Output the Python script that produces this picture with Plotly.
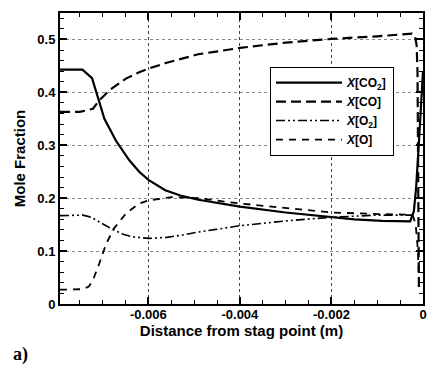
import plotly.graph_objects as go

# ---- data ----
co2_x = [-0.00793, -0.00744, -0.00723, -0.00714, -0.00696, -0.00671, -0.00642, -0.00620, -0.00599,
         -0.00563, -0.00530, -0.00491, -0.00450, -0.00400, -0.00300, -0.00200, -0.00150, -0.00089,
         -0.00028, -0.00020, -0.00015, -0.00010, -0.00006, 0.0]
co2_y = [0.443, 0.443, 0.427, 0.400, 0.350, 0.309, 0.272, 0.250, 0.234,
         0.215, 0.205, 0.197, 0.191, 0.184, 0.173, 0.164, 0.160, 0.157,
         0.156, 0.175, 0.220, 0.290, 0.350, 0.440]

co_x = [-0.00793, -0.00750, -0.00721, -0.00707, -0.00685, -0.00649, -0.00620, -0.00599, -0.00560,
        -0.00527, -0.00491, -0.00452, -0.00400, -0.00300, -0.00200, -0.00100, -0.00024, -0.00018,
        -0.00014, -0.00012, -0.00010, -0.00009]
co_y = [0.363, 0.363, 0.369, 0.385, 0.404, 0.426, 0.438, 0.445, 0.456,
        0.464, 0.472, 0.477, 0.484, 0.494, 0.501, 0.506, 0.511, 0.508,
        0.490, 0.440, 0.200, 0.032]

o2_x = [-0.00793, -0.00743, -0.00725, -0.00707, -0.00678, -0.00655, -0.00635, -0.00599, -0.00560,
        -0.00527, -0.00491, -0.00452, -0.00400, -0.00300, -0.00200, -0.00100, -0.00031, -0.00022]
o2_y = [0.167, 0.168, 0.164, 0.155, 0.141, 0.132, 0.127, 0.124, 0.126,
        0.130, 0.136, 0.141, 0.148, 0.157, 0.164, 0.168, 0.169, 0.168]

o_x = [-0.00793, -0.00743, -0.00730, -0.00721, -0.00707, -0.00692, -0.00675, -0.00649, -0.00620,
       -0.00599, -0.00548, -0.00491, -0.00400, -0.00300, -0.00200, -0.00100, -0.00031, -0.00022,
       -0.00016, -0.00011, -0.00009]
o_y = [0.027, 0.028, 0.033, 0.045, 0.077, 0.114, 0.143, 0.171, 0.190,
       0.196, 0.202, 0.200, 0.190, 0.181, 0.173, 0.170, 0.169, 0.167,
       0.150, 0.100, 0.050]

names = ["<i>X</i>[CO<sub>2</sub>]", "<i>X</i>[CO]", "<i>X</i>[O<sub>2</sub>]", "<i>X</i>[O]"]
x_ticks = [-0.006, -0.004, -0.002, 0]
x_tick_labels = ["-0.006", "-0.004", "-0.002", "0"]
y_ticks = [0, 0.1, 0.2, 0.3, 0.4, 0.5]
y_tick_labels = ["0", "0.1", "0.2", "0.3", "0.4", "0.5"]

FONT = "Liberation Sans"

fig = go.Figure()
fig.add_trace(go.Scatter(x=co2_x, y=co2_y, mode="lines", name=names[0],
                         line=dict(color="black", width=2.2, dash="solid")))
fig.add_trace(go.Scatter(x=co_x, y=co_y, mode="lines", name=names[1],
                         line=dict(color="black", width=2.2, dash="10px,5px")))
fig.add_trace(go.Scatter(x=o2_x, y=o2_y, mode="lines", name=names[2],
                         line=dict(color="black", width=1.6, dash="9px,3px,2px,3px,2px,3px")))
fig.add_trace(go.Scatter(x=o_x, y=o_y, mode="lines", name=names[3],
                         line=dict(color="black", width=1.8, dash="7px,6px")))

axis_common = dict(
    showline=True, linecolor="black", linewidth=2, mirror="allticks",
    ticks="inside", tickcolor="black", tickwidth=1.5, ticklen=7,
    showgrid=True, gridwidth=1, griddash="dot",
    zeroline=False, ticklabeloverflow="allow",
    tickfont=dict(family=FONT, size=13, color="black", weight="bold"),
    title_font=dict(family=FONT, size=15, color="black", weight="bold"),
)

fig.update_xaxes(
    range=[-0.00793, 0.0], tickvals=x_ticks, ticktext=x_tick_labels,
    gridcolor="#444444", ticklabelstandoff=-3,
    minor=dict(dtick=0.0005, ticks="inside", ticklen=4, tickcolor="black", tickwidth=1.2, showgrid=False),
    title_text="Distance from stag point (m)", title_standoff=4,
    **axis_common,
)
fig.update_yaxes(
    range=[0, 0.55], tickvals=y_ticks, ticktext=y_tick_labels,
    gridcolor="#888888",
    minor=dict(dtick=0.02, ticks="inside", ticklen=4, tickcolor="black", tickwidth=1.2, showgrid=False),
    title_text="Mole Fraction", title_standoff=8,
    **axis_common,
)

fig.add_annotation(text="<b>a)</b>", xref="paper", yref="paper", x=-0.108, y=-0.172,
                   xanchor="center", yanchor="middle", showarrow=False,
                   font=dict(family="Liberation Serif", size=18, color="black"))

fig.update_layout(
    width=427, height=371,
    margin=dict(l=60, r=0, t=13, b=67),
    plot_bgcolor="white", paper_bgcolor="white",
    showlegend=True,
    legend=dict(x=0.578, y=0.815, xanchor="left", yanchor="top",
                bgcolor="white", bordercolor="black", borderwidth=1.2,
                font=dict(family=FONT, size=12, color="black", weight="bold"),
                itemwidth=66, tracegroupgap=0),
)

fig.write_html("out.html")
